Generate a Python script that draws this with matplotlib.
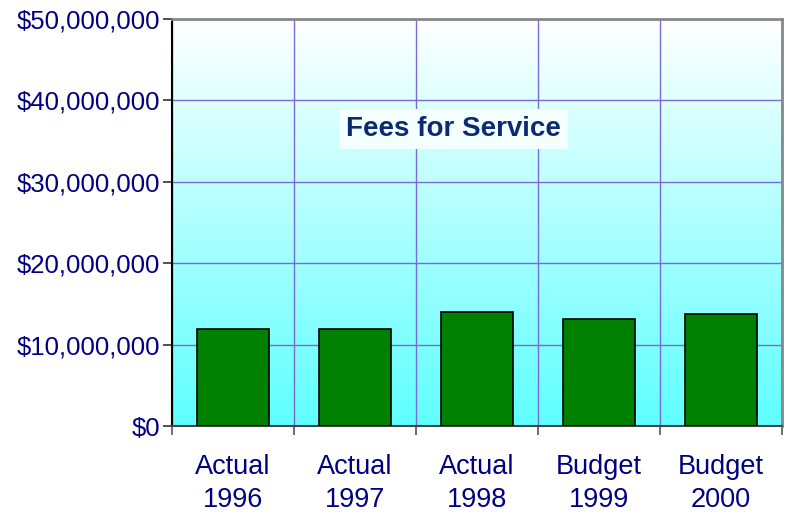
import numpy as np
import matplotlib
matplotlib.use("Agg")
import matplotlib.pyplot as plt
from matplotlib.colors import LinearSegmentedColormap
from matplotlib.ticker import FuncFormatter

categories = ["Actual\n1996", "Actual\n1997", "Actual\n1998", "Budget\n1999", "Budget\n2000"]
fees = [11.9e6, 11.9e6, 14.0e6, 13.2e6, 13.7e6]
y_ticks = [0, 10e6, 20e6, 30e6, 40e6, 50e6]

navy = "#000080"
plt.rcParams['font.family'] = ['Liberation Sans', 'DejaVu Sans']

fig = plt.figure(figsize=(7.86, 5.18), dpi=100)
ax = fig.add_axes([0.2188, 0.1776, 0.7761, 0.7857])

# gradient background, white at top to cyan at bottom
cmap = LinearSegmentedColormap.from_list("bg", ["#5fffff", "#ffffff"])
grad = np.linspace(0, 1, 256).reshape(-1, 1)
ax.imshow(grad, cmap=cmap, aspect="auto", origin="lower",
          extent=[-0.5, 4.5, 0, 50e6], zorder=0)

x = np.arange(len(categories))
ax.bar(x, fees, width=0.59, color="#008000", edgecolor="black", linewidth=1.2, zorder=3)

ax.set_xlim(-0.5, 4.5)
ax.set_ylim(0, 50e6)
ax.set_yticks(y_ticks)
ax.yaxis.set_major_formatter(FuncFormatter(lambda v, p: "${:,.0f}".format(v)))
ax.set_xticks(x)
ax.set_xticklabels(categories, linespacing=1.35)
ax.set_xticks(np.arange(-0.5, 5, 1), minor=True)

ax.tick_params(axis="y", length=6.5, width=1.2, color="#333333", labelsize=18.5,
               labelcolor=navy, pad=2)
ax.tick_params(axis="x", which="major", length=0, labelsize=19.5, labelcolor=navy, pad=20)
ax.tick_params(axis="x", which="minor", length=6.5, width=1.2, color="#555555")

ax.grid(True, axis="y", color="#7a6ad8", linewidth=1.0, zorder=1)
ax.grid(True, axis="x", which="minor", color="#7a6ad8", linewidth=1.0, zorder=1)
ax.grid(False, axis="x", which="major")

ax.spines["left"].set_color("black")
ax.spines["left"].set_linewidth(1.5)
ax.spines["bottom"].set_color("#444444")
ax.spines["bottom"].set_linewidth(1.5)
for s in ["top", "right"]:
    ax.spines[s].set_color("#888888")
    ax.spines[s].set_linewidth(2)

ax.text(1.81, 36.5e6, "Fees for Service", ha="center", va="center", fontsize=20,
        fontweight="bold", color="#0b2a72", zorder=5,
        bbox=dict(boxstyle="square,pad=0.25", facecolor="#f4ffff", edgecolor="none"))

fig.savefig("out.png", dpi=100)
